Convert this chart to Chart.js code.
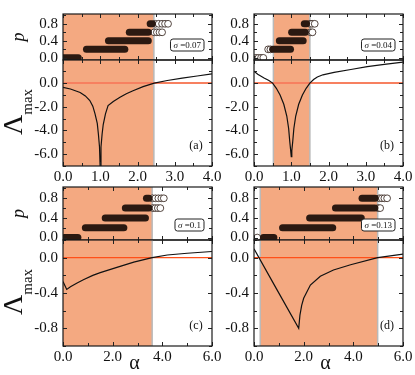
<!DOCTYPE html>
<html>
<head>
<meta charset="utf-8">
<script src="https://cdn.jsdelivr.net/npm/chart.js@4.4.0/dist/chart.umd.min.js"></script>
<style>
  body { margin: 0; background: #fff; }
  #fig { position: relative; width: 415px; height: 375px; }
  #fig canvas { position: absolute; left: 0; top: 0; }
</style>
</head>
<body>
<div id="fig">
  <canvas id="pa" width="415" height="375"></canvas>
  <canvas id="la" width="415" height="375"></canvas>
  <canvas id="pb" width="415" height="375"></canvas>
  <canvas id="lb" width="415" height="375"></canvas>
  <canvas id="pc" width="415" height="375"></canvas>
  <canvas id="lc" width="415" height="375"></canvas>
  <canvas id="pd" width="415" height="375"></canvas>
  <canvas id="ld" width="415" height="375"></canvas>
</div>
<script>
// niveaux de p (bandes horizontales)
const pLevels = [0, 0.2, 0.4, 0.6, 0.8];
const pTicks = [0, 0.4, 0.8];
const lamTicksTop = [-6, -4, -2, 0];
const lamTicksBottom = [-0.8, -0.4, 0];
const alphaTicksTop = [0, 1, 2, 3, 4];
const alphaTicksBottom = [0, 2, 4, 6];

// (a) sigma = 0.07
const shadeA = [0, 2.44];
const bandStartA = [0.00, 0.63, 1.22, 1.78, 2.34];
const bandEndA   = [0.41, 1.66, 2.29, 2.29, 2.40];
const openA = [[], [], [], [2.45, 2.52, 2.59, 2.66], [2.48, 2.57, 2.66, 2.74, 2.82]];
const alphaA  = [0, 0.2, 0.46, 0.6, 0.72, 0.8, 0.86, 0.92, 0.95, 0.98, 1.0, 1.02, 1.05, 1.08, 1.14, 1.21, 1.35, 1.53, 1.7, 1.88, 2.15, 2.3, 2.45, 2.8, 3.2, 3.6, 4.0];
const lambdaA = [-0.36, -0.5, -0.79, -1.08, -1.47, -1.95, -2.6, -3.4, -4.3, -5.4, -7.4, -5.4, -4.3, -3.5, -2.6, -1.9, -1.55, -1.2, -0.9, -0.65, -0.3, -0.15, 0, 0.22, 0.42, 0.6, 0.78];

// (b) sigma = 0.04
const shadeB = [0.52, 1.5];
const bandStartB = [null, 0.5, 0.68, 1.01, 1.35];
const bandEndB   = [null, 0.98, 1.32, 1.38, 1.41];
const openB = [[0.05, 0.12, 0.19, 0.25], [0.38, 0.44], [], [1.52, 1.57], [1.5, 1.56, 1.63]];
const alphaB  = [0, 0.1, 0.27, 0.4, 0.5, 0.6, 0.7, 0.8, 0.88, 0.93, 0.96, 0.985, 1.0, 1.015, 1.04, 1.07, 1.12, 1.2, 1.3, 1.4, 1.5, 1.6, 1.7, 1.85, 2.15, 2.6, 3.04, 3.5, 4.0];
const lambdaB = [1.0, 0.75, 0.43, 0.22, 0, -0.44, -1.0, -1.79, -2.78, -3.83, -4.93, -5.7, -6.2, -5.7, -4.93, -3.83, -2.78, -1.79, -1.0, -0.44, 0, 0.3, 0.52, 0.7, 0.9, 1.15, 1.39, 1.58, 1.77];

// (c) sigma = 0.1
const shadeC = [0, 3.59];
const bandStartC = [0.05, 0.9, 1.7, 2.51, 3.36];
const bandEndC   = [0.6, 2.45, 3.32, 3.46, 3.46];
const openC = [[], [], [], [3.62, 3.72, 3.82, 3.92], [3.6, 3.72, 3.84, 3.96, 4.06]];
const alphaC  = [0, 0.15, 0.3, 0.55, 0.82, 1.2, 1.5, 2.17, 2.85, 3.59, 4.2, 5.0, 6.0];
const lambdaC = [-0.27, -0.36, -0.33, -0.29, -0.25, -0.2, -0.17, -0.11, -0.05, 0, 0.03, 0.05, 0.07];

// (d) sigma = 0.13
const shadeD = [0.25, 4.98];
const bandStartD = [0.38, 1.15, 2.24, 3.28, 4.35];
const bandEndD   = [0.8, 3.17, 4.32, 4.87, 4.88];
const openD = [[0.13], [], [], [5.0, 5.08], [5.05, 5.15, 5.25, 5.36]];
const alphaD  = [0, 0.9, 1.8, 1.85, 1.92, 2.0, 2.27, 2.67, 3.2, 3.89, 4.98, 6.0];
const lambdaD = [0.1, -0.35, -0.8, -0.65, -0.54, -0.46, -0.31, -0.21, -0.14, -0.08, 0, 0.04];

Chart.defaults.font.family = "'Liberation Serif', 'DejaVu Serif', serif";
Chart.defaults.font.size = 15;
Chart.defaults.color = '#111';

const DARK = '#2b1911';
const SHADE = 'rgb(244,169,129)';

// decorations: zone colorée, ligne zero, cadre, petits traits, textes
const deco = {
  id: 'deco',
  beforeDatasetsDraw(chart, args, o) {
    const { ctx, chartArea: a, scales: { x, y } } = chart;
    ctx.save();
    if (o.shade) {
      const x0 = x.getPixelForValue(o.shade[0]);
      const x1 = x.getPixelForValue(o.shade[1]);
      ctx.fillStyle = SHADE;
      ctx.fillRect(x0, a.top, x1 - x0, a.bottom - a.top);
      ctx.strokeStyle = 'rgb(185,185,185)';
      ctx.lineWidth = 1.5;
      [x0, x1].forEach(px => {
        if (px > a.left + 1 && px < a.right - 1) {
          ctx.beginPath(); ctx.moveTo(px, a.top); ctx.lineTo(px, a.bottom); ctx.stroke();
        }
      });
    }
    if (o.zero) {
      const py = y.getPixelForValue(0);
      ctx.strokeStyle = o.zero.color;
      ctx.lineWidth = o.zero.width;
      ctx.beginPath(); ctx.moveTo(a.left, py); ctx.lineTo(a.right, py); ctx.stroke();
    }
    ctx.restore();
  },
  afterDraw(chart, args, o) {
    const { ctx, chartArea: a, scales: { x, y } } = chart;
    ctx.save();
    // petits traits vers l'interieur
    ctx.strokeStyle = '#222';
    ctx.lineWidth = 1;
    const eps = 1e-6;
    for (let v = Math.ceil((x.min - eps) / o.xMinor) * o.xMinor; v <= x.max + eps; v += o.xMinor) {
      const px = Math.round(x.getPixelForValue(v)) + 0.5;
      const len = Math.abs(v / o.xMajor - Math.round(v / o.xMajor)) < 1e-3 ? 4 : 3;
      ctx.beginPath();
      ctx.moveTo(px, a.bottom); ctx.lineTo(px, a.bottom - len);
      ctx.moveTo(px, a.top); ctx.lineTo(px, a.top + len);
      ctx.stroke();
    }
    for (let v = Math.ceil((y.min - eps) / o.yMinor) * o.yMinor; v <= y.max + eps; v += o.yMinor) {
      const py = Math.round(y.getPixelForValue(v)) + 0.5;
      const len = Math.abs(v / o.yMajor - Math.round(v / o.yMajor)) < 1e-3 ? 4 : 3;
      ctx.beginPath();
      ctx.moveTo(a.left, py); ctx.lineTo(a.left + len, py);
      ctx.moveTo(a.right, py); ctx.lineTo(a.right - len, py);
      ctx.stroke();
    }
    // cadre
    ctx.strokeStyle = '#1a1a1a';
    ctx.lineWidth = 1.2;
    ctx.strokeRect(a.left, a.top, a.right - a.left, a.bottom - a.top);

    ctx.fillStyle = '#111';
    // boite sigma
    if (o.sigma) {
      ctx.font = "italic 9px 'Liberation Serif', serif";
      const w1 = ctx.measureText('σ').width;
      ctx.font = "9px 'Liberation Serif', serif";
      const txt = ' =' + o.sigma;
      const w2 = ctx.measureText(txt).width;
      const w = w1 + w2 + 6, h = 12;
      const bx = a.right - 8 - w, by = a.bottom - 9 - h;
      ctx.fillStyle = '#fff';
      ctx.strokeStyle = '#222';
      ctx.lineWidth = 1;
      ctx.beginPath();
      ctx.roundRect(bx, by, w, h, 2.5);
      ctx.fill(); ctx.stroke();
      ctx.fillStyle = '#111';
      ctx.textBaseline = 'middle';
      ctx.textAlign = 'left';
      ctx.font = "italic 9px 'Liberation Serif', serif";
      ctx.fillText('σ', bx + 3, by + h / 2 + 0.5);
      ctx.font = "9px 'Liberation Serif', serif";
      ctx.fillText(txt, bx + 3 + w1, by + h / 2 + 0.5);
    }
    // etiquette du panneau
    if (o.tag) {
      ctx.font = "12px 'Liberation Serif', serif";
      ctx.textAlign = 'center';
      ctx.textBaseline = 'middle';
      ctx.fillText(o.tag, a.right - 16, a.bottom - 20);
    }
    // titres des axes
    const cy = (a.top + a.bottom) / 2;
    if (o.yTitle === 'p') {
      ctx.save();
      ctx.translate(19, cy);
      ctx.rotate(-Math.PI / 2);
      ctx.font = "italic 18px 'Liberation Serif', serif";
      ctx.textAlign = 'center';
      ctx.textBaseline = 'middle';
      ctx.fillText('p', 0, 0);
      ctx.restore();
    }
    if (o.yTitle === 'lambda') {
      ctx.save();
      ctx.font = "28px 'Liberation Serif', serif";
      const wL = ctx.measureText('Λ').width;
      ctx.font = "15px 'Liberation Serif', serif";
      const wM = ctx.measureText('max').width;
      ctx.translate(22, cy - 1);
      ctx.rotate(-Math.PI / 2);
      ctx.textAlign = 'left';
      ctx.textBaseline = 'alphabetic';
      const start = -(wL + wM) / 2;
      ctx.font = "28px 'Liberation Serif', serif";
      ctx.fillText('Λ', start, 0);
      ctx.font = "15px 'Liberation Serif', serif";
      ctx.fillText('max', start + wL, 10);
      ctx.restore();
    }
    if (o.xTitle) {
      ctx.font = "20px 'Liberation Serif', serif";
      ctx.textAlign = 'center';
      ctx.textBaseline = 'middle';
      ctx.fillText('α', (a.left + a.right) / 2 - 3, 364);
    }
    ctx.restore();
  }
};

function bandSets(starts, ends, opens) {
  const sets = [];
  pLevels.forEach((p, i) => {
    if (starts[i] === null) return;
    sets.push({
      data: [{ x: starts[i], y: p }, { x: ends[i], y: p }],
      borderColor: DARK, borderWidth: 7, borderCapStyle: 'round',
      pointRadius: 0
    });
  });
  pLevels.forEach((p, i) => {
    if (!opens[i].length) return;
    sets.push({
      data: opens[i].map(v => ({ x: v, y: p })),
      showLine: false, pointRadius: 3.4,
      pointBackgroundColor: '#fff', pointBorderColor: DARK, pointBorderWidth: 0.8
    });
  });
  return sets;
}

function curveSet(alpha, lambda) {
  return [{
    data: alpha.map((v, i) => ({ x: v, y: lambda[i] })),
    borderColor: '#111', borderWidth: 1.2, pointRadius: 0, tension: 0
  }];
}

function yScale(min, max, ticks) {
  return {
    type: 'linear', min: min, max: max,
    grid: { display: false, drawTicks: false }, border: { display: false },
    ticks: { padding: 5, callback: v => v.toFixed(1) },
    afterBuildTicks: s => { s.ticks = ticks.map(v => ({ value: v })); },
    afterFit: s => { s.width = 50; }
  };
}

function xScale(max, ticks, show) {
  return {
    type: 'linear', min: 0, max: max, display: show,
    grid: { display: false, drawTicks: false }, border: { display: false },
    ticks: { padding: 2, callback: v => v.toFixed(1), maxRotation: 0 },
    afterBuildTicks: s => { s.ticks = ticks.map(v => ({ value: v })); },
    afterFit: s => { s.height = show ? 20 : 0; }
  };
}

function panel(id, datasets, x, y, padding, decoOpts) {
  return new Chart(document.getElementById(id), {
    type: 'line',
    data: { datasets: datasets },
    options: {
      responsive: false, animation: false, events: [],
      layout: { autoPadding: false, padding: padding },
      plugins: { legend: { display: false }, tooltip: { enabled: false }, deco: decoOpts },
      scales: { x: x, y: y }
    },
    plugins: [deco]
  });
}

const padL = { left: 13, right: 203 };
const padR = { left: 204, right: 12 };

// rangee du haut
panel('pa', bandSets(bandStartA, bandEndA, openA), xScale(4, alphaTicksTop, false), yScale(-0.05, 1.03, pTicks),
  { ...padL, top: 7, bottom: 315 },
  { shade: shadeA, sigma: '0.07', xMinor: 0.5, xMajor: 1, yMinor: 0.2, yMajor: 0.4, yTitle: 'p' });
panel('la', curveSet(alphaA, lambdaA), xScale(4, alphaTicksTop, true), yScale(-7, 1.95, lamTicksTop),
  { ...padL, top: 60, bottom: 189 },
  { shade: shadeA, zero: { color: 'rgb(247,128,96)', width: 2 }, tag: '(a)', xMinor: 0.5, xMajor: 1, yMinor: 1, yMajor: 2, yTitle: 'lambda' });
panel('pb', bandSets(bandStartB, bandEndB, openB), xScale(4, alphaTicksTop, false), yScale(-0.05, 1.03, pTicks),
  { ...padR, top: 7, bottom: 315 },
  { shade: shadeB, sigma: '0.04', xMinor: 0.5, xMajor: 1, yMinor: 0.2, yMajor: 0.4 });
panel('lb', curveSet(alphaB, lambdaB), xScale(4, alphaTicksTop, true), yScale(-7, 1.95, lamTicksTop),
  { ...padR, top: 60, bottom: 189 },
  { shade: shadeB, zero: { color: 'rgb(247,128,96)', width: 2 }, tag: '(b)', xMinor: 0.5, xMajor: 1, yMinor: 1, yMajor: 2 });

// rangee du bas
panel('pc', bandSets(bandStartC, bandEndC, openC), xScale(6, alphaTicksBottom, false), yScale(-0.05, 1.03, pTicks),
  { ...padL, top: 187, bottom: 135 },
  { shade: shadeC, sigma: '0.1', xMinor: 1, xMajor: 2, yMinor: 0.2, yMajor: 0.4, yTitle: 'p' });
panel('lc', curveSet(alphaC, lambdaC), xScale(6, alphaTicksBottom, true), yScale(-1.0, 0.2, lamTicksBottom),
  { ...padL, top: 240, bottom: 9 },
  { shade: shadeC, zero: { color: 'rgb(255,80,25)', width: 1.2 }, tag: '(c)', xMinor: 1, xMajor: 2, yMinor: 0.2, yMajor: 0.4, yTitle: 'lambda', xTitle: true });
panel('pd', bandSets(bandStartD, bandEndD, openD), xScale(6, alphaTicksBottom, false), yScale(-0.05, 1.03, pTicks),
  { ...padR, top: 187, bottom: 135 },
  { shade: shadeD, sigma: '0.13', xMinor: 1, xMajor: 2, yMinor: 0.2, yMajor: 0.4 });
panel('ld', curveSet(alphaD, lambdaD), xScale(6, alphaTicksBottom, true), yScale(-1.0, 0.2, lamTicksBottom),
  { ...padR, top: 240, bottom: 9 },
  { shade: shadeD, zero: { color: 'rgb(255,80,25)', width: 1.2 }, tag: '(d)', xMinor: 1, xMajor: 2, yMinor: 0.2, yMajor: 0.4, xTitle: true });
</script>
</body>
</html>
